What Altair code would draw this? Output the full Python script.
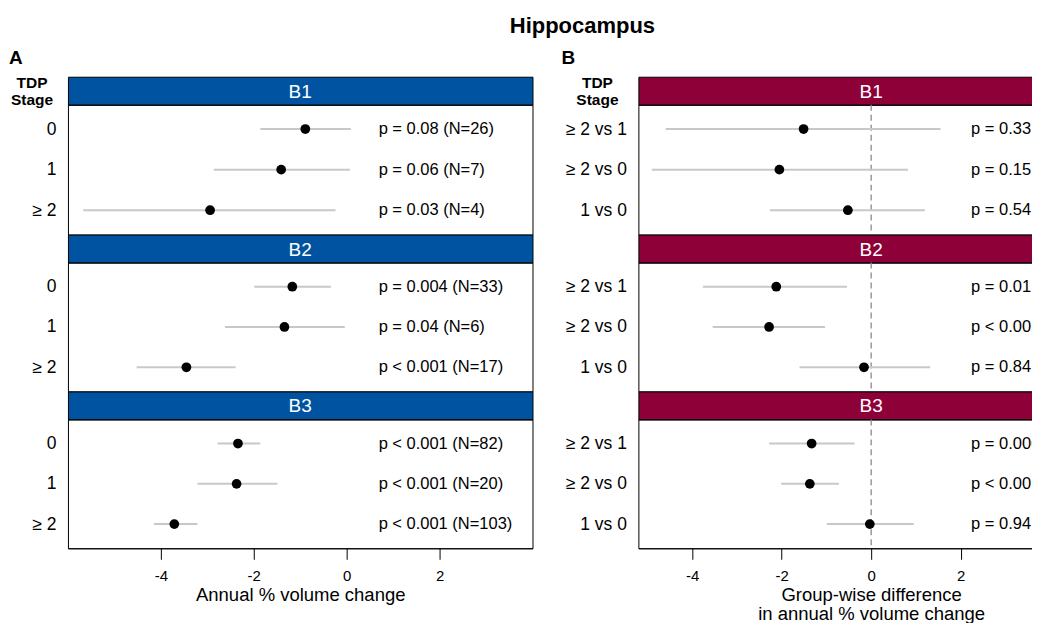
import altair as alt
import pandas as pd

FONT = "Liberation Sans"

blocks = ["B1", "B2", "B3"]

# Panel A: annual % volume change by TDP stage
stages_a = ["0", "1", "≥ 2"]
a_b1_est = [-0.89, -1.41, -2.94]
a_b1_lo = [-1.86, -2.86, -5.67]
a_b1_hi = [0.09, 0.07, -0.24]
a_b1_p = ["p = 0.08 (N=26)", "p = 0.06 (N=7)", "p = 0.03 (N=4)"]

a_b2_est = [-1.17, -1.34, -3.45]
a_b2_lo = [-1.99, -2.62, -4.52]
a_b2_hi = [-0.34, -0.04, -2.39]
a_b2_p = ["p = 0.004 (N=33)", "p = 0.04 (N=6)", "p < 0.001 (N=17)"]

a_b3_est = [-2.34, -2.37, -3.71]
a_b3_lo = [-2.78, -3.21, -4.15]
a_b3_hi = [-1.86, -1.49, -3.21]
a_b3_p = ["p < 0.001 (N=82)", "p < 0.001 (N=20)", "p < 0.001 (N=103)"]

# Panel B: group-wise differences
stages_b = ["≥ 2 vs 1", "≥ 2 vs 0", "1 vs 0"]
b_b1_est = [-1.51, -2.05, -0.52]
b_b1_lo = [-4.59, -4.90, -2.26]
b_b1_hi = [1.55, 0.82, 1.20]
b_b1_p = ["p = 0.33", "p = 0.15", "p = 0.54"]

b_b2_est = [-2.12, -2.28, -0.16]
b_b2_lo = [-3.76, -3.54, -1.60]
b_b2_hi = [-0.54, -1.03, 1.32]
b_b2_p = ["p = 0.01", "p < 0.001", "p = 0.84"]

b_b3_est = [-1.33, -1.37, -0.03]
b_b3_lo = [-2.28, -2.01, -0.99]
b_b3_hi = [-0.37, -0.72, 0.95]
b_b3_p = ["p = 0.006", "p < 0.001", "p = 0.94"]

x_ticks = [-4, -2, 0, 2]
zero_ref = [0]

BLUE = "#0053A0"
CRIMSON = "#8E0038"
CI_GREY = "#C8C8C8"

HDR_H = 28
BODY_H = [130, 129, 129]
W_A = 465
W_B = 466
DOM_A = [-6, 4]
DOM_B = [-5.2, 5.2]


def make_df(rows, est, lo, hi, p):
    return pd.DataFrame({"row": rows, "est": est, "lo": lo, "hi": hi, "p": p})


def header(label, w, color, first, panel_letter, letter_dx, tdp_dx):
    base = alt.Chart(pd.DataFrame({"block": [label]}))
    layers = [
        base.mark_text(color="white", fontSize=19, baseline="middle", align="center", font=FONT).encode(
            x=alt.value(w / 2), y=alt.value(HDR_H / 2 + 1), text="block:N"
        )
    ]
    if first:
        layers.append(
            base.mark_text(
                text=["TDP", "Stage"], fontSize=15.5, fontWeight="bold", align="center",
                baseline="alphabetic", lineHeight=16.6, font=FONT, color="black",
            ).encode(x=alt.value(tdp_dx), y=alt.value(11.7))
        )
        layers.append(
            base.mark_text(
                text=panel_letter, fontSize=19, fontWeight="bold", align="left",
                baseline="alphabetic", font=FONT, color="black",
            ).encode(x=alt.value(letter_dx), y=alt.value(-12.5))
        )
    return alt.layer(*layers).properties(
        width=w, height=HDR_H,
        view=alt.ViewBackground(fill=color, stroke="black", strokeWidth=1),
    )


def body(df, order, w, h, dom, show_x, xtitle, text_x, zero_line):
    yenc = alt.Y(
        "row:N", sort=order,
        scale=alt.Scale(type="point", domain=order, padding=0.6),
        axis=alt.Axis(title=None, ticks=False, domain=False, labelPadding=12,
                      labelFontSize=17.5, labelColor="black", labelFont=FONT),
    )
    xscale = alt.Scale(domain=dom, nice=False, zero=False)
    if show_x:
        xaxis = alt.Axis(
            values=x_ticks, title=xtitle, grid=False, tickSize=11, tickColor="black",
            domainColor="black", labelFontSize=15, labelColor="black", labelPadding=9,
            titleFontSize=18.5, titleFontWeight="normal", titleColor="black", titlePadding=2,
            titleLineHeight=19, labelFont=FONT, titleFont=FONT, labelFlush=False,
            labelExpr="'' + datum.value",
        )
    else:
        xaxis = None
    base = alt.Chart(df).encode(y=yenc)
    layers = []
    if zero_line:
        layers.append(
            alt.Chart(pd.DataFrame({"z": zero_ref})).mark_rule(
                color="#8A8A8A", strokeDash=[6, 4], strokeWidth=1.3
            ).encode(x=alt.X("z:Q", scale=xscale, axis=xaxis))
        )
    layers.append(
        base.mark_rule(color=CI_GREY, strokeWidth=2).encode(
            x=alt.X("lo:Q", scale=xscale, axis=xaxis), x2="hi:Q"
        )
    )
    layers.append(
        base.mark_circle(color="black", size=95, opacity=1).encode(x=alt.X("est:Q", scale=xscale))
    )
    layers.append(
        base.mark_text(align="left", baseline="middle", fontSize=16.5, color="black", font=FONT).encode(
            x=alt.value(text_x), text="p:N"
        )
    )
    return alt.layer(*layers).properties(width=w, height=h)


a_data = [
    make_df(stages_a, a_b1_est, a_b1_lo, a_b1_hi, a_b1_p),
    make_df(stages_a, a_b2_est, a_b2_lo, a_b2_hi, a_b2_p),
    make_df(stages_a, a_b3_est, a_b3_lo, a_b3_hi, a_b3_p),
]
b_data = [
    make_df(stages_b, b_b1_est, b_b1_lo, b_b1_hi, b_b1_p),
    make_df(stages_b, b_b2_est, b_b2_lo, b_b2_hi, b_b2_p),
    make_df(stages_b, b_b3_est, b_b3_lo, b_b3_hi, b_b3_p),
]

col_a = []
col_b = []
for i, blk in enumerate(blocks):
    col_a.append(header(blk, W_A, BLUE, i == 0, "A", -59, -36))
    col_a.append(body(a_data[i], stages_a, W_A, BODY_H[i], DOM_A, i == 2,
                      "Annual % volume change", 311, False))
    col_b.append(header(blk, W_B, CRIMSON, i == 0, "B", -77, -41))
    col_b.append(body(b_data[i], stages_b, W_B, BODY_H[i], DOM_B, i == 2,
                      ["Group-wise difference", "in annual % volume change"], 333, True))

left = alt.vconcat(*col_a, spacing=0, bounds="flush")
right = alt.vconcat(*col_b, spacing=0, bounds="flush")

chart = alt.hconcat(left, right, spacing=27).properties(
    title=alt.TitleParams("Hippocampus", fontSize=22, fontWeight="bold", font=FONT,
                          color="black", anchor="middle", dx=26, offset=10.5),
    padding={"left": 0, "top": 6.5, "right": -73, "bottom": -1},
).configure(font=FONT).configure_view(stroke="black", strokeWidth=1)

chart.save("out.html", embed_options={"renderer": "svg", "actions": False})
